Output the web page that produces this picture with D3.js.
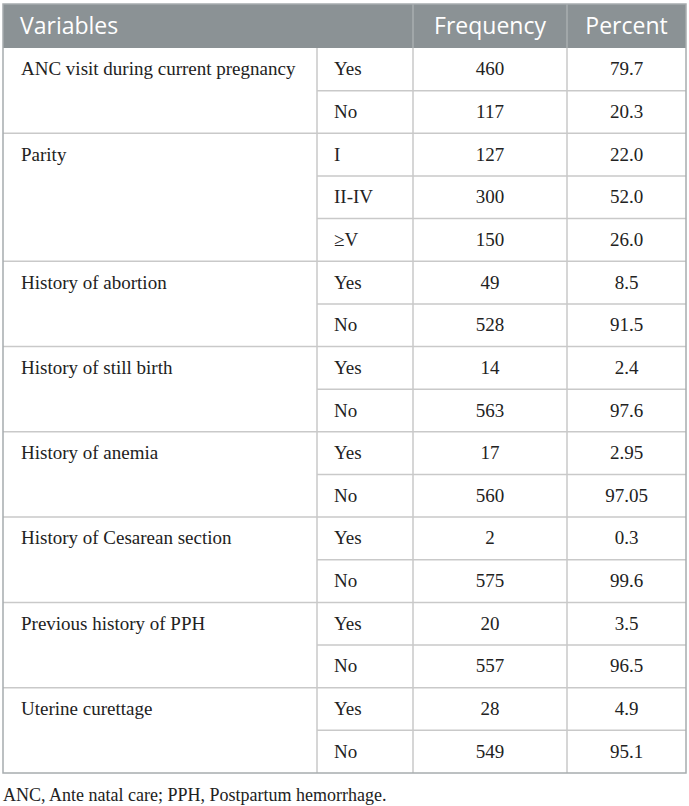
<!DOCTYPE html>
<html>
<head>
<meta charset="utf-8">
<script src="https://cdn.jsdelivr.net/npm/d3@7"></script>
<style>
  body { margin: 0; background: #fff; }
</style>
</head>
<body>
<svg id="table"></svg>
<script>
const headers = ["Variables", "Frequency", "Percent"];
const variables = [
  "ANC visit during current pregnancy",
  "Parity",
  "History of abortion",
  "History of still birth",
  "History of anemia",
  "History of Cesarean section",
  "Previous history of PPH",
  "Uterine curettage"
];
const categories = [
  ["Yes", "No"],
  ["I", "II-IV", "\u2265V"],
  ["Yes", "No"],
  ["Yes", "No"],
  ["Yes", "No"],
  ["Yes", "No"],
  ["Yes", "No"],
  ["Yes", "No"]
];
const frequency = [
  [460, 117],
  [127, 300, 150],
  [49, 528],
  [14, 563],
  [17, 560],
  [2, 575],
  [20, 557],
  [28, 549]
];
const percent = [
  ["79.7", "20.3"],
  ["22.0", "52.0", "26.0"],
  ["8.5", "91.5"],
  ["2.4", "97.6"],
  ["2.95", "97.05"],
  ["0.3", "99.6"],
  ["3.5", "96.5"],
  ["4.9", "95.1"]
];
const footnote = "ANC, Ante natal care; PPH, Postpartum hemorrhage.";

const width = 689, height = 806;
const colX = [3, 317, 413, 567, 686];   // column edges
const headTop = 4, headBottom = 48, tableBottom = 773;

const svg = d3.select("#table")
  .attr("width", width)
  .attr("height", height)
  .attr("viewBox", `0 0 ${width} ${height}`);

// flatten groups into rows
const rows = [];
variables.forEach((v, g) => {
  categories[g].forEach((c, i) => {
    rows.push({group: g, first: i === 0, last: i === categories[g].length - 1,
      variable: v, cat: c, freq: frequency[g][i], pct: percent[g][i]});
  });
});

const y = d3.scaleLinear()
  .domain([0, rows.length])
  .range([headBottom, tableBottom]);

// header
svg.append("rect")
  .attr("x", colX[0]).attr("y", headTop)
  .attr("width", colX[4] - colX[0]).attr("height", headBottom - headTop)
  .attr("fill", "#8b9295");

const headG = svg.append("g")
  .attr("font-family", "'Open Sans', sans-serif")
  .attr("font-size", 23)
  .attr("fill", "#fff");

headG.append("text").attr("x", 20).attr("y", 34).text(headers[0]);
headG.append("text").attr("x", (colX[2] + colX[3]) / 2).attr("y", 34)
  .attr("text-anchor", "middle").text(headers[1]);
headG.append("text").attr("x", (colX[3] + colX[4]) / 2).attr("y", 34)
  .attr("text-anchor", "middle").text(headers[2]);

// header separators
[colX[2], colX[3]].forEach(x => {
  svg.append("line")
    .attr("x1", x).attr("x2", x).attr("y1", headTop).attr("y2", headBottom)
    .attr("stroke", "#a9aeb0").attr("stroke-width", 1.5);
});

// grid lines
const grid = svg.append("g").attr("stroke", "#c9c9c9").attr("stroke-width", 1.5);

rows.forEach((r, i) => {
  if (i === rows.length - 1) return;
  grid.append("line")
    .attr("x1", r.last ? colX[0] : colX[1]).attr("x2", colX[4])
    .attr("y1", y(i + 1)).attr("y2", y(i + 1));
});

[colX[1], colX[2], colX[3]].forEach(x => {
  grid.append("line")
    .attr("x1", x).attr("x2", x).attr("y1", headBottom).attr("y2", tableBottom);
});

// outer border
svg.append("rect")
  .attr("x", colX[0]).attr("y", headTop)
  .attr("width", colX[4] - colX[0]).attr("height", tableBottom - headTop)
  .attr("fill", "none")
  .attr("stroke", "#a7acae").attr("stroke-width", 1.5);

// body text
const body = svg.append("g")
  .attr("font-family", "'Liberation Serif', 'Times New Roman', serif")
  .attr("font-size", 19)
  .attr("fill", "#222");

const cells = body.selectAll("g.row")
  .data(rows)
  .join("g")
  .attr("class", "row")
  .attr("transform", (d, i) => `translate(0,${(y(i) + y(i + 1)) / 2 + 6})`);

cells.filter(d => d.first)
  .append("text").attr("x", 21).text(d => d.variable);
cells.append("text").attr("x", 334).text(d => d.cat);
cells.append("text").attr("x", (colX[2] + colX[3]) / 2)
  .attr("text-anchor", "middle").text(d => d.freq);
cells.append("text").attr("x", (colX[3] + colX[4]) / 2)
  .attr("text-anchor", "middle").text(d => d.pct);

svg.append("text")
  .attr("x", 3).attr("y", 801)
  .attr("font-family", "'Liberation Serif', 'Times New Roman', serif")
  .attr("font-size", 18)
  .attr("fill", "#222")
  .text(footnote);
</script>
</body>
</html>
